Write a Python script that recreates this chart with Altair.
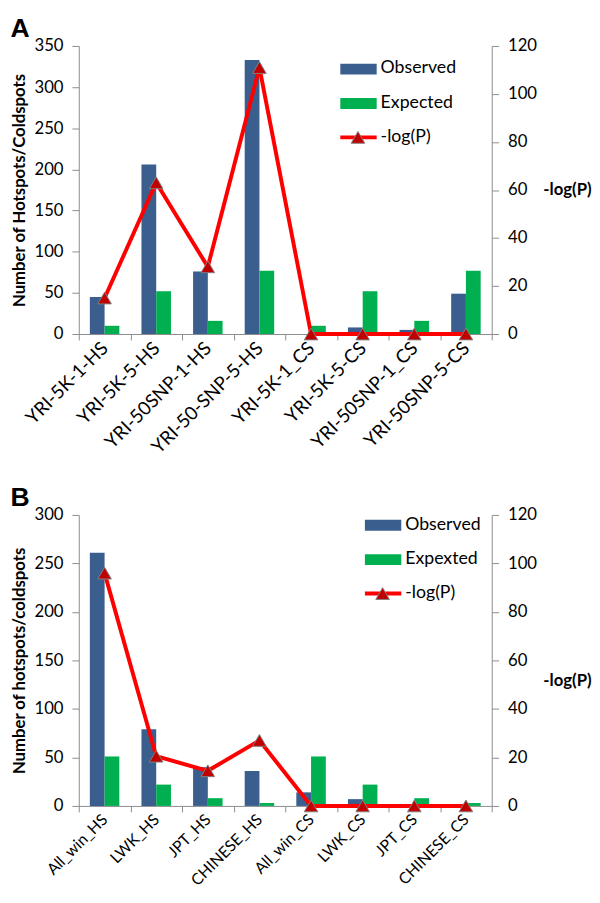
import altair as alt
import pandas as pd

# ---------------- data ----------------
cats_a = ["YRI-5K-1-HS", "YRI-5K-5-HS", "YRI-50SNP-1-HS", "YRI-50-SNP-5-HS",
          "YRI-5K-1_CS", "YRI-5K-5-CS", "YRI-50SNP-1_CS", "YRI-50SNP-5-CS"]
obs_a = [45, 206, 76, 333, 0, 8, 5, 49]
exp_a = [10, 52, 16, 77, 10, 52, 16, 77]
logp_a = [15, 63, 28, 111, 0, 0, 0, 0]

cats_b = ["All_win_HS", "LWK_HS", "JPT_HS", "CHINESE_HS",
          "All_win_CS", "LWK_CS", "JPT_CS", "CHINESE_CS"]
obs_b = [261, 79, 40, 36, 14, 7, 1, 0]
exp_b = [51, 22, 8, 3, 51, 22, 8, 3]
logp_b = [96, 20.5, 14.5, 27, 0, 0, 0, 0]

FONT = "Lato"
BLUE = "#3A5F8F"
GREEN = "#00B050"
RED = "#FF0000"
DARKRED = "#C00000"
GREY = "#8C8C8C"


def panel(letter, cats, obs, exp, logp, ymax, ystep, ylabel, exp_label,
          height, lx, ly, rtitle_dy, xfont):
    bars = pd.DataFrame({
        "cat": cats * 2,
        "series": ["Observed"] * len(cats) + ["Expected"] * len(cats),
        "value": obs + exp,
    })
    line = pd.DataFrame({"cat": cats, "logp": logp})

    xenc = alt.X("cat:N", sort=cats,
                 scale=alt.Scale(paddingInner=0, paddingOuter=0),
                 axis=alt.Axis(title=None, labelAngle=-45, labelAlign="right",
                               labelBaseline="middle", tickBand="extent",
                               labelFontSize=xfont, labelPadding=5,
                               tickSize=6, domainColor=GREY, tickColor=GREY,
                               labelColor="black", labelFont=FONT))

    bar = alt.Chart(bars).mark_bar().encode(
        x=xenc,
        xOffset=alt.XOffset("series:N", sort=["Observed", "Expected"],
                            scale=alt.Scale(paddingOuter=0.75, paddingInner=0)),
        y=alt.Y("value:Q", scale=alt.Scale(domain=[0, ymax], nice=False),
                axis=alt.Axis(values=list(range(0, ymax + 1, ystep)),
                              title=ylabel, titleFontSize=17,
                              titleFontWeight="bold", titleFont=FONT,
                              titleColor="black", titlePadding=6,
                              labelFontSize=17, labelFont=FONT, labelPadding=9,
                              labelColor="black", tickSize=7,
                              domainColor=GREY, tickColor=GREY, grid=False)),
        color=alt.Color("series:N", scale=alt.Scale(domain=["Observed", "Expected"],
                                                    range=[BLUE, GREEN]),
                        legend=None),
    )

    yr = alt.Y("logp:Q", scale=alt.Scale(domain=[0, 120], nice=False),
               axis=alt.Axis(orient="right", values=list(range(0, 121, 20)),
                             title="-log(P)", titleAngle=0, titleAlign="left",
                             titleBaseline="middle", titleX=52,
                             titleY=height / 2 + rtitle_dy,
                             titleFontSize=17, titleFontWeight="bold",
                             titleFont=FONT, titleColor="black",
                             labelFontSize=17, labelFont=FONT, labelPadding=9,
                             labelColor="black", tickSize=7,
                             domainColor=GREY, tickColor=GREY, grid=False))
    ln = alt.Chart(line).mark_line(color=RED, strokeWidth=4).encode(
        x=alt.X("cat:N", sort=cats), y=yr)
    pts = alt.Chart(line).mark_point(shape="triangle-up", filled=True, fill=DARKRED,
                                     stroke="#7F7F7F", strokeWidth=1, opacity=1,
                                     size=190).encode(
        x=alt.X("cat:N", sort=cats),
        y=alt.Y("logp:Q", scale=alt.Scale(domain=[0, 120], nice=False), axis=None))

    # legend (drawn inside the plot area)
    one = pd.DataFrame({"k": [0]})
    leg = []
    labels = ["Observed", exp_label, "-log(P)"]
    for i, (lab, col) in enumerate(zip(labels, [BLUE, GREEN, None])):
        yy = ly + i * 35
        if col is not None:
            leg.append(alt.Chart(one).mark_rect(color=col).encode(
                x=alt.value(lx), x2=alt.value(lx + 37),
                y=alt.value(yy - 5), y2=alt.value(yy + 6)))
        else:
            leg.append(alt.Chart(one).mark_rule(color=RED, strokeWidth=4).encode(
                x=alt.value(lx), x2=alt.value(lx + 37), y=alt.value(yy)))
            leg.append(alt.Chart(one).mark_point(shape="triangle-up", filled=True,
                                                 fill=DARKRED, stroke="#7F7F7F",
                                                 strokeWidth=1, opacity=1,
                                                 size=190).encode(
                x=alt.value(lx + 18), y=alt.value(yy)))
        leg.append(alt.Chart(one).mark_text(text=lab, align="left", baseline="middle",
                                            font=FONT, fontSize=18,
                                            color="black").encode(
            x=alt.value(lx + 41), y=alt.value(yy)))

    ch = alt.layer(bar, ln, pts, *leg).resolve_scale(y="independent").properties(
        width=420, height=height,
        title=alt.TitleParams(letter, anchor="start", frame="bounds",
                              fontSize=27, fontWeight="bold",
                              font="Liberation Sans", color="black", offset=-6,
                              dx=0))
    return ch


pa = panel("A", cats_a, obs_a, exp_a, logp_a, 350, 50,
           "Number of Hotspots/Coldspots", "Expected", 293, 266, 23, 0, 19)
pb = panel("B", cats_b, obs_b, exp_b, logp_b, 300, 50,
           "Number of hotspots/coldspots", "Expexted", 296, 291, 10, 20, 16)

chart = alt.vconcat(pa, pb, spacing=28).configure_view(stroke=None).properties(
    padding={"left": 2, "top": 0, "right": 0, "bottom": 0})

chart.save("out.html", embed_options={"renderer": "svg", "actions": False})
